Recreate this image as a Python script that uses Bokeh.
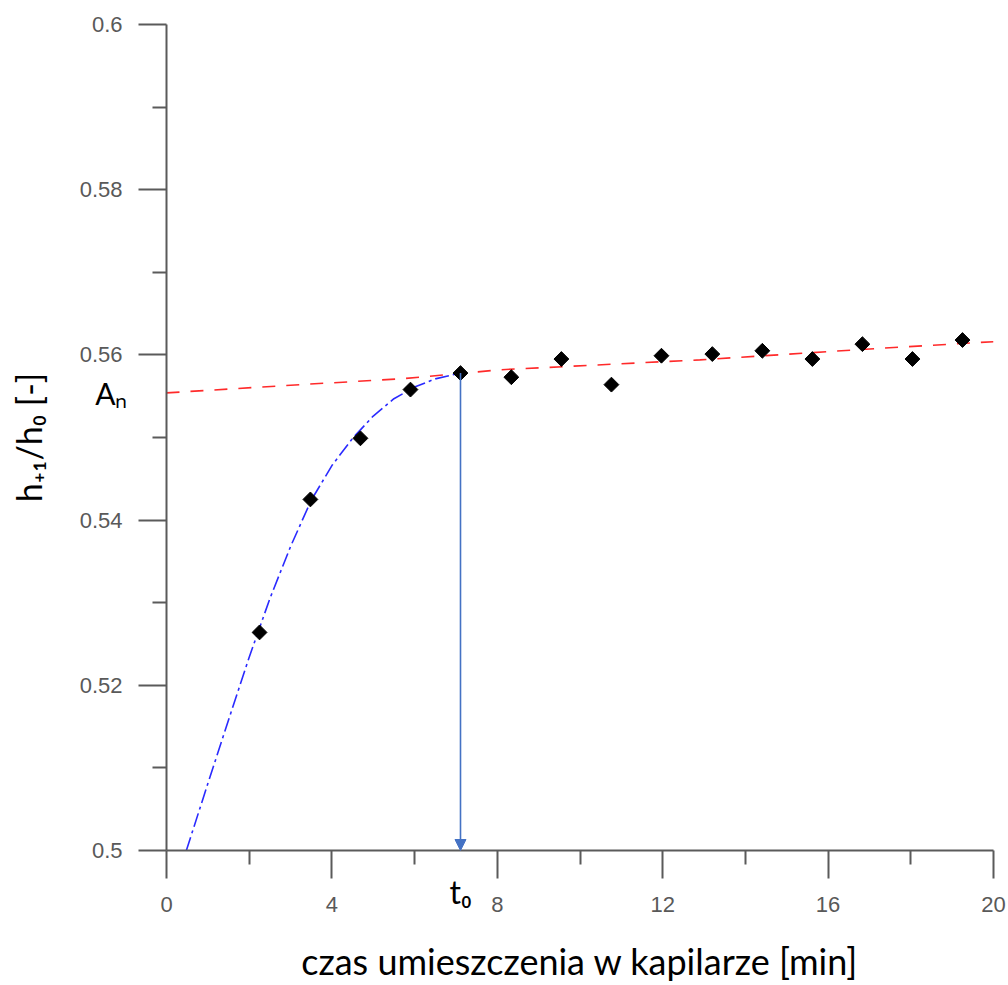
import numpy as np
from bokeh.plotting import figure
from bokeh.models import (Range1d, FixedTicker, CustomJSTickFormatter, LinearAxis,
                          Arrow, NormalHead)
from bokeh.embed import file_html
from bokeh.resources import INLINE

# ---- data ----
meas_t = [2.25, 3.48, 4.69, 5.90, 7.11, 8.34, 9.55, 10.76, 11.97, 13.20,
          14.41, 15.62, 16.83, 18.04, 19.25]
meas_h = [0.5264, 0.5425, 0.5499, 0.5558, 0.5578, 0.5573, 0.5595, 0.5564,
          0.5599, 0.5601, 0.5605, 0.5595, 0.5613, 0.5595, 0.5618]

fit_rise_t = [0.48, 1.0, 1.5, 2.0, 2.5, 3.0, 3.5, 4.0, 4.5, 5.0, 5.5, 6.0, 6.5, 7.11]
fit_rise_h = [0.5000, 0.5081, 0.5158, 0.5234, 0.5305, 0.5368, 0.5424, 0.5466,
              0.5499, 0.5526, 0.5547, 0.5561, 0.5571, 0.5578]

fit_plateau_t = [0, 3.24, 5.66, 8.08, 12.9, 17.27, 20]
fit_plateau_h = [0.5554, 0.5564, 0.5571, 0.5582, 0.5594, 0.5608, 0.5616]

t0 = 7.11
t0_h = 0.5578
A_n = 0.5554

x_major = [0, 4, 8, 12, 16, 20]
x_minor = [2, 6, 10, 14, 18]
y_major = [0.5, 0.52, 0.54, 0.56, 0.58, 0.6]
y_minor = [0.51, 0.53, 0.55, 0.57, 0.59]

x_title = "czas umieszczenia w kapilarze [min]"
y_title = "h\u208a\u2081/h\u2080 [-]"
an_text = "A\u2099"
t0_text = "t\u2080"

# ---- layout ----
FL, FR, FT, FB = 166, 993, 24, 850
XMIN, XMAX, YMIN, YMAX = 0, 20, 0.5, 0.6

p = figure(width=1008, height=985, frame_width=FR - FL, frame_height=FB - FT,
           min_border_left=FL, min_border_right=1008 - FR,
           min_border_top=FT, min_border_bottom=985 - FB,
           x_range=Range1d(XMIN, XMAX), y_range=Range1d(YMIN, YMAX),
           output_backend="svg", toolbar_location=None)
p.outline_line_color = None
p.xgrid.visible = False
p.ygrid.visible = False

axcol = "#5a5a5a"
for ax in (p.xaxis[0], p.yaxis[0]):
    ax.axis_line_color = axcol
    ax.axis_line_width = 2
    ax.major_tick_line_color = axcol
    ax.major_tick_line_width = 2
    ax.minor_tick_line_color = axcol
    ax.minor_tick_line_width = 2
    ax.major_tick_in = 0
    ax.major_tick_out = 28
    ax.minor_tick_in = 0
    ax.minor_tick_out = 14
    ax.major_label_text_font = "Liberation Sans"
    ax.major_label_text_font_size = "22px"
    ax.major_label_text_color = "#595959"

p.xaxis[0].ticker = FixedTicker(ticks=x_major, minor_ticks=x_minor)
p.yaxis[0].ticker = FixedTicker(ticks=y_major, minor_ticks=y_minor)
p.yaxis[0].formatter = CustomJSTickFormatter(code="return String(parseFloat(tick.toFixed(4)));")
p.xaxis[0].major_label_standoff = 18
p.yaxis[0].major_label_standoff = 16


def text_axis(tick, text, standoff, size, title, title_size, title_standoff):
    ax = LinearAxis(ticker=FixedTicker(ticks=[tick], minor_ticks=[]),
                    formatter=CustomJSTickFormatter(code="return %r;" % text),
                    axis_line_color=None, major_tick_line_color=None,
                    minor_tick_line_color=None, major_tick_in=0, major_tick_out=0,
                    minor_tick_in=0, minor_tick_out=0,
                    major_label_standoff=standoff,
                    major_label_text_font="Lato",
                    major_label_text_font_size=size,
                    major_label_text_color="black",
                    axis_label=title,
                    axis_label_text_font="Lato",
                    axis_label_text_font_size=title_size,
                    axis_label_text_font_style="normal",
                    axis_label_text_color="black",
                    axis_label_standoff=title_standoff)
    return ax

# A_n label beside the y axis, carrying the y-axis title
p.add_layout(text_axis(A_n, an_text, -51, "30px", y_title, "34px", 43), "left")

# t_0 label under the x axis, carrying the x-axis title
p.add_layout(text_axis(t0, t0_text, -43, "32px", x_title, "36px", 25), "below")

# ---- curves ----
p.line(fit_plateau_t, fit_plateau_h, line_color="#ff2a2a", line_width=1.6,
       line_dash="13 11")
p.line(fit_rise_t, fit_rise_h, line_color="#2a2aff", line_width=1.6,
       line_dash="14 4 3 4")

p.add_layout(Arrow(end=NormalHead(size=11, fill_color="#4472c4", line_color="#4472c4"),
                   x_start=t0, y_start=t0_h, x_end=t0, y_end=YMIN,
                   line_color="#4472c4", line_width=1.6))

p.scatter(meas_t, meas_h, marker="square", angle=np.pi / 4, size=10.5,
          fill_color="black", line_color="black")

open("out.html", "w").write(file_html(p, INLINE))
